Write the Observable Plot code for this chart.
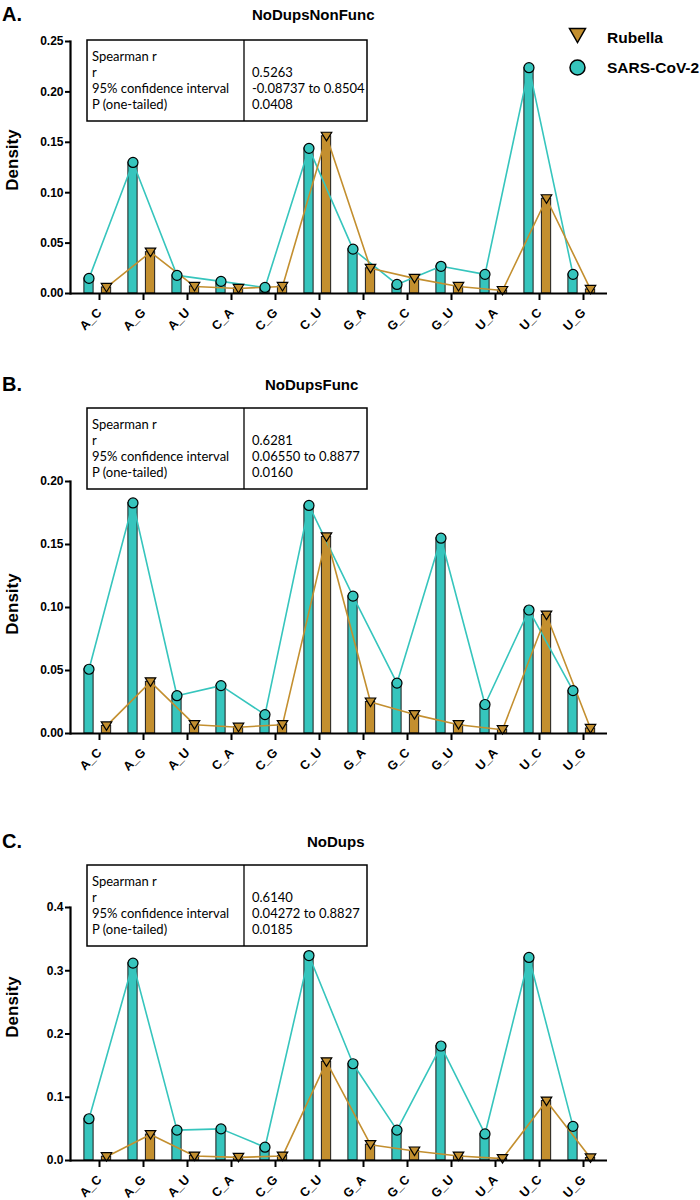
<!DOCTYPE html>
<html>
<head>
<meta charset="utf-8">
<script src="https://cdn.jsdelivr.net/npm/d3@7"></script>
<script src="https://cdn.jsdelivr.net/npm/@observablehq/plot@0.6"></script>
<style>
  body { margin: 0; background: #fff; }
  #wrap { position: relative; width: 700px; height: 1200px; overflow: hidden; }
  #wrap > svg { position: absolute; left: 0; }
  #overlay { top: 0; pointer-events: none; }
</style>
</head>
<body>
<div id="wrap"></div>
<script>
// ---------- data ----------
const categories = ["A_C","A_G","A_U","C_A","C_G","C_U","G_A","G_C","G_U","U_A","U_C","U_G"];
const rubella     = [0.006, 0.041, 0.007, 0.005, 0.007, 0.156, 0.025, 0.015, 0.007, 0.003, 0.094, 0.004];
const sarsNonFunc = [0.015, 0.130, 0.018, 0.012, 0.006, 0.144, 0.044, 0.009, 0.027, 0.019, 0.224, 0.019];
const sarsFunc    = [0.051, 0.183, 0.030, 0.038, 0.015, 0.181, 0.109, 0.040, 0.155, 0.023, 0.098, 0.034];
const sarsAll     = [0.066, 0.312, 0.048, 0.050, 0.021, 0.324, 0.153, 0.048, 0.181, 0.042, 0.321, 0.054];

const ticksA = [0, 0.05, 0.10, 0.15, 0.20, 0.25];
const ticksB = [0, 0.05, 0.10, 0.15, 0.20];
const ticksC = [0, 0.1, 0.2, 0.3, 0.4];

const statLabels = ["Spearman r", "r", "95% confidence interval", "P (one-tailed)"];
const statsA = ["", "0.5263", "-0.08737 to 0.8504", "0.0408"];
const statsB = ["", "0.6281", "0.06550 to 0.8877", "0.0160"];
const statsC = ["", "0.6140", "0.04272 to 0.8827", "0.0185"];

const panelLetters = ["A.", "B.", "C."];
const panelTitles = ["NoDupsNonFunc", "NoDupsFunc", "NoDups"];
const seriesNames = ["Rubella", "SARS-CoV-2"];

// ---------- style ----------
const TEAL = "#36c5bd";
const GOLD = "#c38f2f";
const EDGE = "#1c1c1c";

const triDown = {
  draw(ctx, size) {
    const r = Math.sqrt(size / Math.PI);
    const w = r * 1.05;
    ctx.moveTo(-w, -r * 0.8);
    ctx.lineTo(w, -r * 0.8);
    ctx.lineTo(0, r * 0.9);
    ctx.closePath();
  }
};

function panel(sars, yMax, yTicks, fmt, mt, plotH, mb) {
  const rows = categories.map((c, i) => ({cat: c, sars: sars[i], rub: rubella[i]}));
  return Plot.plot({
    width: 700,
    height: mt + plotH + mb,
    marginTop: mt,
    marginBottom: mb,
    marginLeft: 70,
    marginRight: 93,
    style: {fontFamily: "Liberation Sans, Arial, sans-serif", fontSize: "12px", fontWeight: "bold", color: "#000", background: "transparent"},
    x: {domain: categories, padding: 0, label: null},
    y: {domain: [0, yMax], label: null},
    marks: [
      Plot.barY(rows, {x: "cat", y1: 0, y2: "sars", fill: TEAL, stroke: EDGE, strokeWidth: 1, insetLeft: 8.9, insetRight: 25.9}),
      Plot.barY(rows, {x: "cat", y1: 0, y2: "rub", fill: GOLD, stroke: EDGE, strokeWidth: 1, insetLeft: 26.4, insetRight: 8.35}),
      Plot.line(rows, {x: "cat", y: "sars", dx: -8.5, stroke: TEAL, strokeWidth: 1.6}),
      Plot.line(rows, {x: "cat", y: "rub", dx: 9, stroke: GOLD, strokeWidth: 1.6}),
      Plot.dot(rows, {x: "cat", y: "sars", dx: -8.5, r: 5, fill: TEAL, stroke: "#000", strokeWidth: 1.2}),
      Plot.dot(rows, {x: "cat", y: "rub", dx: 9, r: 5, symbol: triDown, fill: GOLD, stroke: "#000", strokeWidth: 1.2}),
      Plot.ruleY([0], {stroke: "#000", strokeWidth: 2.2}),
      Plot.frame({anchor: "left", stroke: "#000", strokeWidth: 2.2}),
      Plot.axisY({ticks: yTicks, tickFormat: fmt, tickSize: 5, tickPadding: 2, strokeWidth: 2, fontSize: 12, fontWeight: "bold", label: null}),
      Plot.axisX({tickRotate: -45, tickSize: 7, tickPadding: 10, dx: 2, strokeWidth: 2, fontSize: 12.5, fontWeight: "bold", label: null})
    ]
  });
}

const wrap = document.getElementById("wrap");
const layouts = [
  {sars: sarsNonFunc, yMax: 0.25, ticks: ticksA, fmt: d3.format(".2f"), top: 0,   mt: 41, h: 252, mb: 60},
  {sars: sarsFunc,    yMax: 0.20, ticks: ticksB, fmt: d3.format(".2f"), top: 400, mt: 81, h: 252, mb: 60},
  {sars: sarsAll,     yMax: 0.4,  ticks: ticksC, fmt: d3.format(".1f"), top: 860, mt: 47, h: 253, mb: 40}
];
layouts.forEach(L => {
  const svg = panel(L.sars, L.yMax, L.ticks, L.fmt, L.mt, L.h, L.mb);
  svg.style.top = L.top + "px";
  wrap.appendChild(svg);
});

// ---------- overlay: letters, titles, stats tables, axis titles, legend ----------
const ov = d3.select(wrap).append("svg")
  .attr("id", "overlay").attr("width", 700).attr("height", 1200)
  .style("font-family", "Liberation Sans, Arial, sans-serif");

const headers = [
  {letterY: 21, titleX: 252, titleY: 20},
  {letterY: 391, titleX: 265, titleY: 390},
  {letterY: 848, titleX: 307, titleY: 847}
];
headers.forEach((h, i) => {
  ov.append("text").attr("x", 2).attr("y", h.letterY).attr("font-size", 20).attr("font-weight", "bold").text(panelLetters[i]);
  ov.append("text").attr("x", h.titleX).attr("y", h.titleY).attr("font-size", 15).attr("font-weight", "bold").text(panelTitles[i]);
});

const densityY = [160, 604, 1007];
densityY.forEach(y => {
  ov.append("text").attr("transform", `translate(18,${y}) rotate(-90)`)
    .attr("text-anchor", "middle").attr("font-size", 17).attr("font-weight", "bold").text("Density");
});

const boxes = [
  {top: 40, vals: statsA},
  {top: 408, vals: statsB},
  {top: 865, vals: statsC}
];
boxes.forEach(b => {
  const g = ov.append("g");
  g.append("rect").attr("x", 87).attr("y", b.top).attr("width", 280).attr("height", 81)
    .attr("fill", "#fff").attr("stroke", "#000").attr("stroke-width", 1.5);
  g.append("line").attr("x1", 244).attr("x2", 244).attr("y1", b.top).attr("y2", b.top + 81)
    .attr("stroke", "#000").attr("stroke-width", 1.3);
  statLabels.forEach((t, j) => {
    g.append("text").attr("x", 92).attr("y", b.top + 21 + 16 * j)
      .attr("font-family", "Lato, sans-serif").attr("font-size", 13).text(t);
    if (b.vals[j]) g.append("text").attr("x", 252).attr("y", b.top + 21 + 16 * j)
      .attr("font-family", "Lato, sans-serif").attr("font-size", 13).text(b.vals[j]);
  });
});

// legend
const lg = ov.append("g");
lg.append("path").attr("d", "M569.5,28.5 L585.5,28.5 L577.5,42.5 Z").attr("fill", GOLD).attr("stroke", "#000").attr("stroke-width", 1.5);
lg.append("circle").attr("cx", 577.5).attr("cy", 67.5).attr("r", 7.5).attr("fill", TEAL).attr("stroke", "#000").attr("stroke-width", 1.5);
lg.append("text").attr("x", 607).attr("y", 43).attr("font-size", 15.5).attr("font-weight", "bold").text(seriesNames[0]);
lg.append("text").attr("x", 607).attr("y", 73).attr("font-size", 15.5).attr("font-weight", "bold").text(seriesNames[1]);
</script>
</body>
</html>
